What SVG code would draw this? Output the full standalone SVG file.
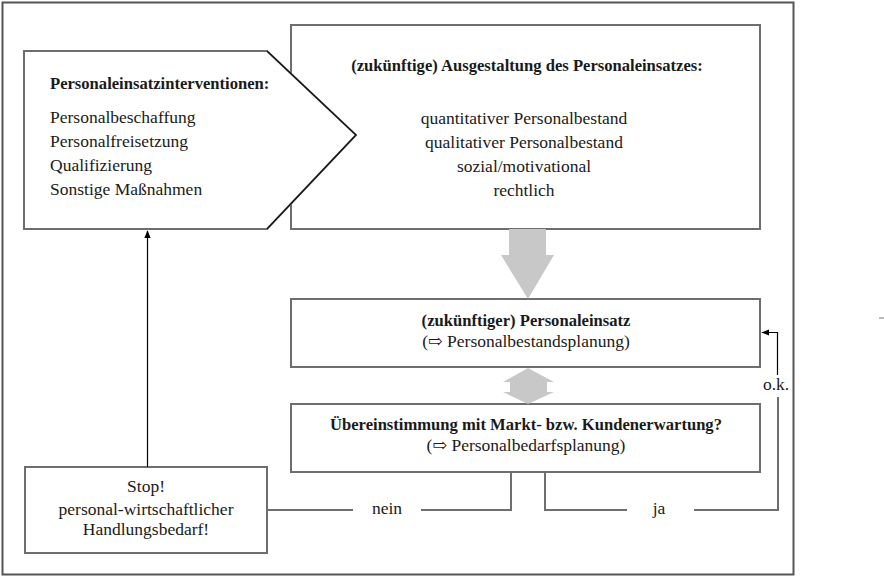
<svg xmlns="http://www.w3.org/2000/svg" width="884" height="578" viewBox="0 0 884 578">
<defs>
<style>
.t{font-family:"Liberation Serif","DejaVu Serif",serif;font-size:17.5px;fill:#1a1a1a}
.b{font-weight:bold;font-size:16.6px}
.m{text-anchor:middle}
.box{fill:#fff;stroke:#6e6e6e;stroke-width:2}
.ln{fill:none;stroke:#6e6e6e;stroke-width:2}
.blk{fill:none;stroke:#000;stroke-width:1.2}
.gray{fill:#c8c8c8}
</style>
<marker id="ah" viewBox="0 0 10 10" refX="9" refY="5" markerWidth="8" markerHeight="8" markerUnits="userSpaceOnUse" orient="auto"><path d="M0,1 L10,5 L0,9 Z" fill="#000"/></marker>
</defs>
<rect x="0" y="0" width="884" height="578" fill="#fff"/>
<rect x="2.5" y="2.5" width="791" height="572" fill="none" stroke="#555" stroke-width="2"/>
<line x1="879" y1="318" x2="884" y2="318" stroke="#777" stroke-width="1"/>

<g id="ausgestaltung">
<rect class="box" x="291" y="25" width="469" height="204"/>
<text class="t b m" x="527" y="71">(zukünftige) Ausgestaltung des Personaleinsatzes:</text>
<text class="t m" x="524" y="124">quantitativer Personalbestand</text>
<text class="t m" x="524" y="148">qualitativer Personalbestand</text>
<text class="t m" x="524" y="172">sozial/motivational</text>
<text class="t m" x="524" y="196">rechtlich</text>
</g>

<g id="interventionen">
<path d="M24,51 H267 L356,135 L267,229 H24 Z" fill="#fff" stroke="#6e6e6e" stroke-width="2"/>
<path d="M267,51 L356,135 L267,229" fill="none" stroke="#111" stroke-width="1.2"/>
<text class="t b" x="50" y="89">Personaleinsatzinterventionen:</text>
<text class="t" x="50" y="123">Personalbeschaffung</text>
<text class="t" x="50" y="147">Personalfreisetzung</text>
<text class="t" x="50" y="171">Qualifizierung</text>
<text class="t" x="50" y="195">Sonstige Maßnahmen</text>
</g>

<g id="personaleinsatz">
<rect class="box" x="291" y="299" width="469" height="68"/>
<text class="t b m" x="526" y="326">(zukünftiger) Personaleinsatz</text>
<text class="t m" x="526" y="347">(⇨ Personalbestandsplanung)</text>
</g>

<g id="uebereinstimmung">
<rect class="box" x="291" y="404" width="469" height="68"/>
<text class="t b m" x="526" y="430">Übereinstimmung mit Markt- bzw. Kundenerwartung?</text>
<text class="t m" x="526" y="451">(⇨ Personalbedarfsplanung)</text>
</g>

<g id="stop">
<rect class="box" x="25" y="467" width="242" height="86"/>
<text class="t m" x="146" y="492">Stop!</text>
<text class="t m" x="146" y="515">personal-wirtschaftlicher</text>
<text class="t m" x="146" y="535">Handlungsbedarf!</text>
</g>

<g id="connectors">
<path class="gray" d="M509,229 H546 V255 H554 L528,299 L501,255 H509 Z"/>
<path class="gray" d="M528,368 L554,382 H547 V392 H554 L528,404 L503,392 H510 V382 H503 Z"/>
<line class="blk" x1="147.5" y1="467" x2="147.5" y2="231" marker-end="url(#ah)"/>
<polyline class="ln" points="267,510 353,510"/>
<polyline class="ln" points="421,510 511,510 511,472"/>
<polyline class="ln" points="545,472 545,510 627,510"/>
<polyline class="ln" points="694,510 778,510 778,397"/>
<polyline class="blk" points="777.5,375 777.5,332.5 762,332.5" marker-end="url(#ah)"/>
<text class="t m" x="387" y="514">nein</text>
<text class="t m" x="659" y="514">ja</text>
<text class="t m" x="776" y="390">o.k.</text>
</g>
</svg>
